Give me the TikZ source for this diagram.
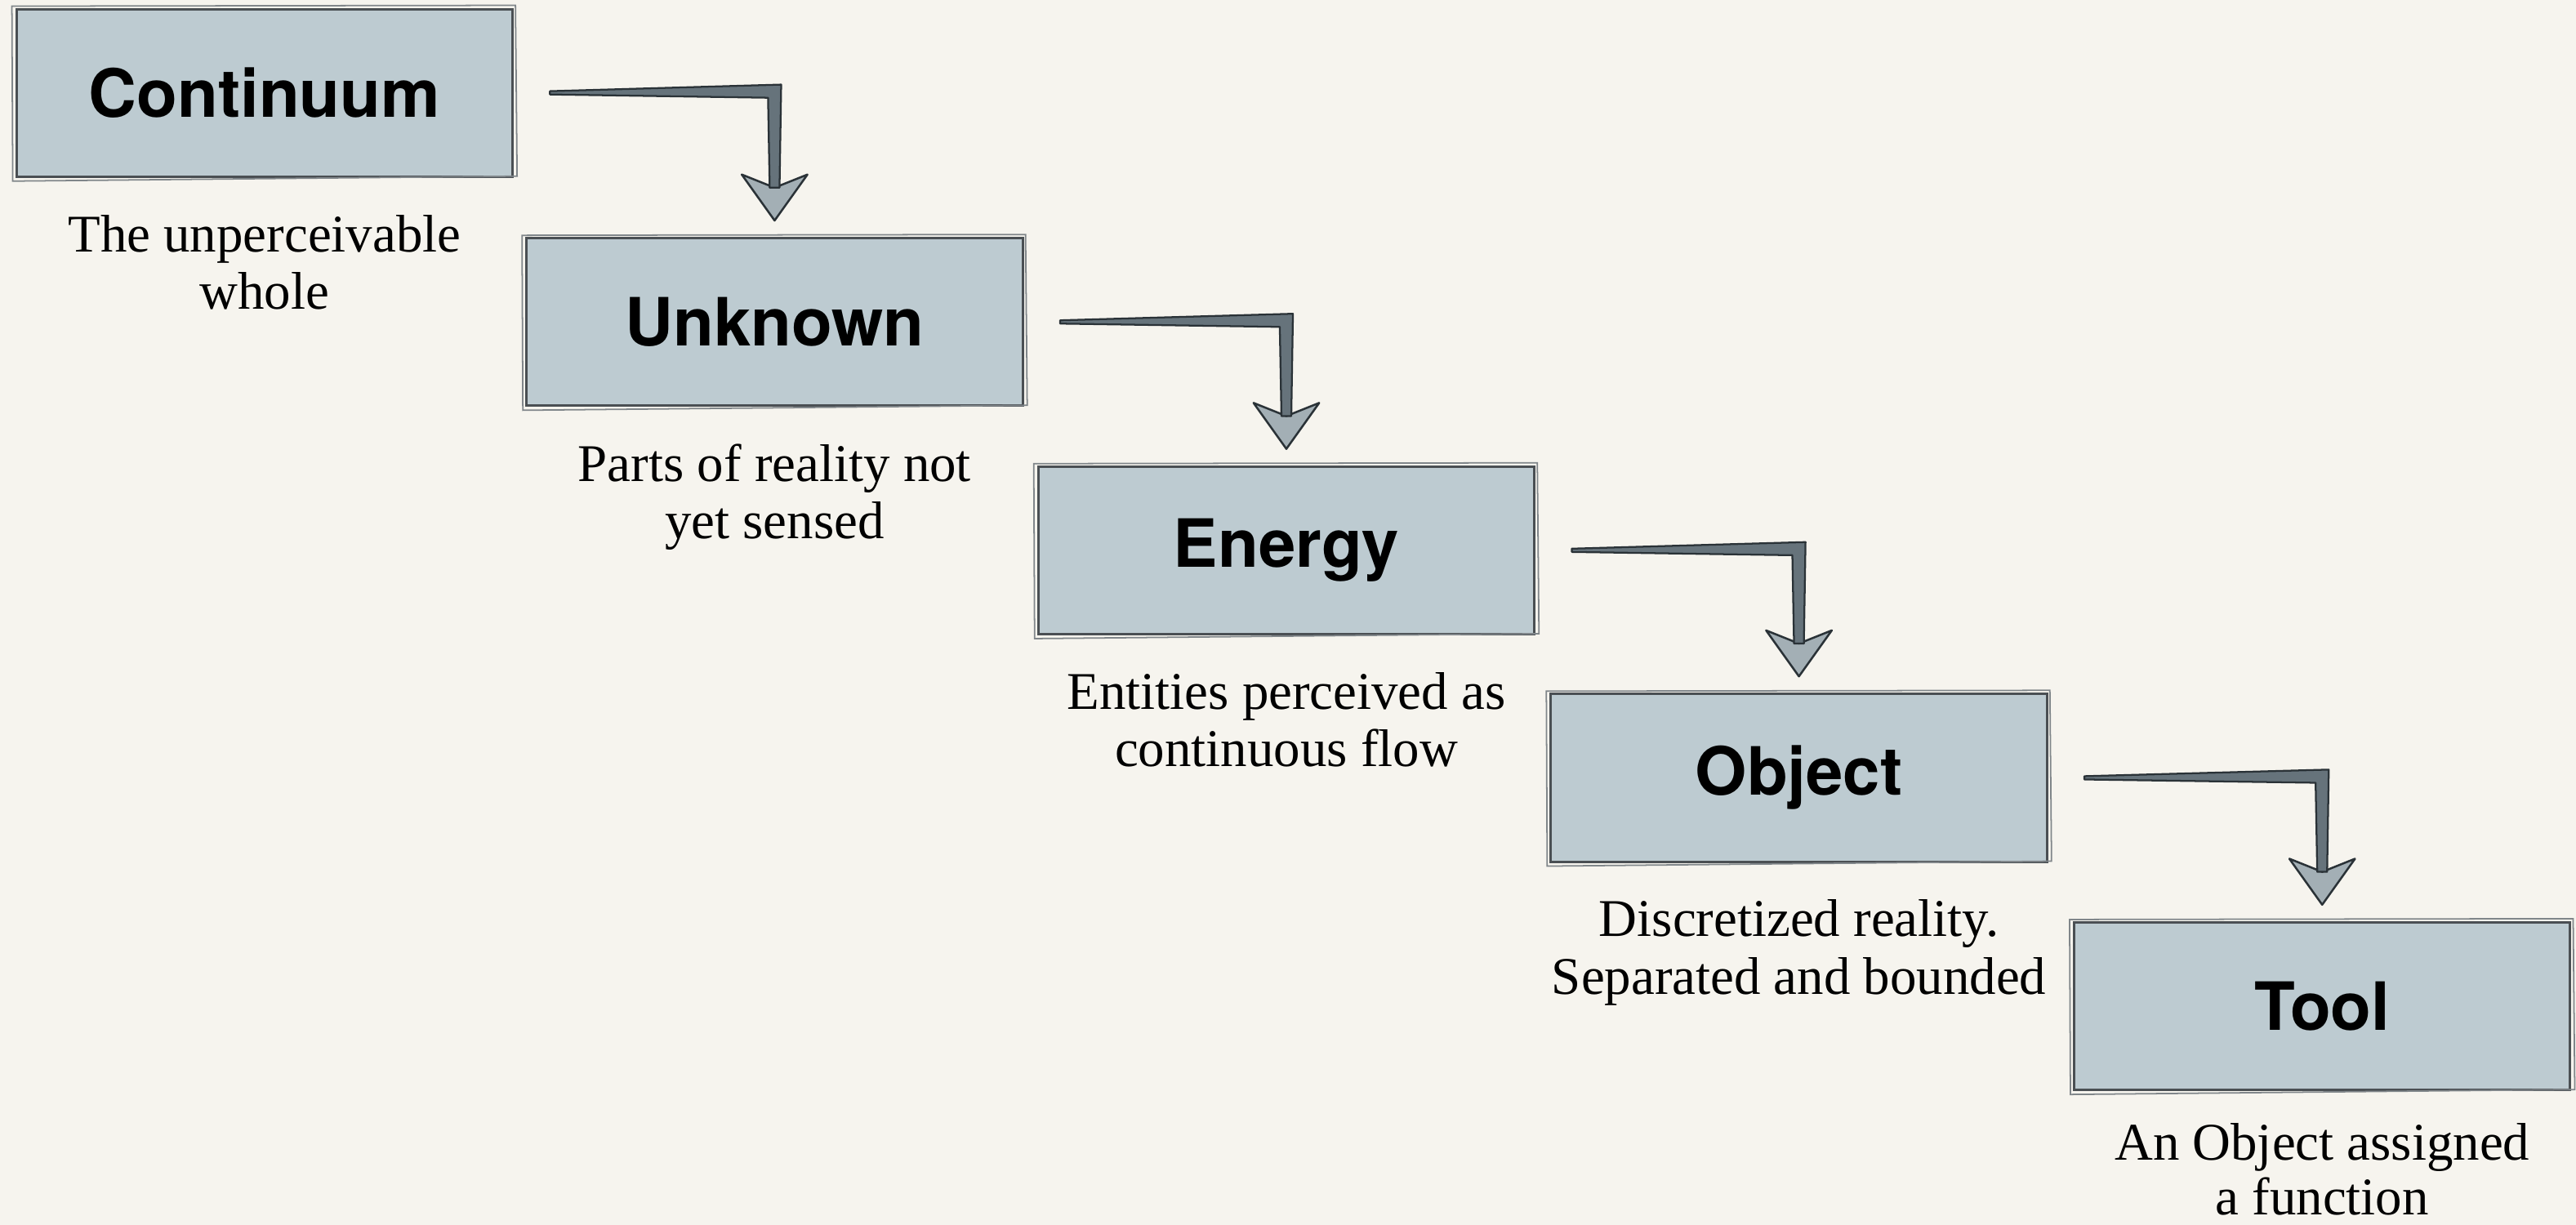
\documentclass[tikz,border=0pt]{standalone}
\usepackage{fontspec}
\setmainfont{Liberation Serif}
\newfontfamily\boxfont{TeX Gyre Heros}
\usetikzlibrary{calc}
\definecolor{paper}{HTML}{F6F4EE}
\definecolor{boxfill}{HTML}{BDCBD1}
\definecolor{boxline}{HTML}{4A4F53}
\definecolor{sketchline}{HTML}{80868A}
\definecolor{shaftfill}{HTML}{66737B}
\definecolor{shaftline}{HTML}{2A3237}
\definecolor{headfill}{HTML}{A3AFB5}
\tikzset{
  stagebox/.style={draw=boxline, line width=0.6pt, fill=boxfill,
    minimum width=120.8pt, minimum height=40.8pt, inner sep=0pt,
    font=\boxfont\bfseries\fontsize{16.2pt}{18pt}\selectfont},
  desc/.style={anchor=north, align=center, inner sep=0pt,
    font=\fontsize{12.9pt}{14pt}\selectfont},
  sketch/.style={draw=sketchline, line width=0.35pt},
  shaft/.style={fill=shaftfill, draw=shaftline, line width=0.45pt, line join=round},
  head/.style={fill=headfill, draw=shaftline, line width=0.5pt, line join=round}
}
\newcommand\sketchbox[1]{%
  \draw[sketch] ($(#1.south west)+(-1.5,2)$) -- ($(#1.south east)+(2,-1)$)
    -- ($(#1.north east)+(1,-1.5)$) -- ($(#1.north west)+(-2,-1)$) -- cycle;}
\newcommand\steparrow[2]{%
  \coordinate (s) at ($(#1.east)+(22,0)$);
  \coordinate (k) at (s -| #2.north);
  \coordinate (tp) at ($(#2.north)+(0,-10)$);
  \coordinate (hb) at ($(tp)+(0,-28)$);
  \draw[head] ($(hb)+(-20,0)$) -- (tp) -- ($(hb)+(20,0)$) -- ($(hb)+(0,8)$) -- cycle;
  \draw[shaft] ($(s)+(0,-1)$) -- ($(k)+(4,-5)$) -- ($(hb)+(3,8)$)
    -- ($(hb)+(-3,8)$) -- ($(k)+(-4,3)$) -- ($(s)+(0,1)$) -- cycle;}
\begin{document}
\begin{tikzpicture}[x=0.4pt,y=-0.4pt]
  \useasboundingbox (0,0) rectangle (1568,745.7);
  \fill[paper] (0,0) rectangle (1568,745.7);

  \node[stagebox] (c) at (161,56.5) {Continuum};
  \node[stagebox] (u) at (471.5,196) {Unknown};
  \node[stagebox] (e) at (783,335) {Energy};
  \node[stagebox] (o) at (1095,473.5) {Object};
  \node[stagebox] (t) at (1413.5,612.5) {Tool};
  \foreach \n in {c,u,e,o,t}{\sketchbox{\n}}

  \node[desc] (dc) at ($(c.south)+(0,22)$) {The unperceivable\\whole};
  \node[desc] (du) at ($(u.south)+(0,22)$) {Parts of reality not\\yet sensed};
  \node[desc] (de) at ($(e.south)+(0,22)$) {Entities perceived as\\continuous flow};
  \node[desc] (do) at ($(o.south)+(0,22)$) {Discretized reality.\\Separated and bounded};
  \node[desc, font=\fontsize{12.9pt}{13.4pt}\selectfont] (dt) at ($(t.south)+(0,19)$) {An Object assigned\\a function};

  \steparrow{c}{u}
  \steparrow{u}{e}
  \steparrow{e}{o}
  \steparrow{o}{t}
\end{tikzpicture}
\end{document}
